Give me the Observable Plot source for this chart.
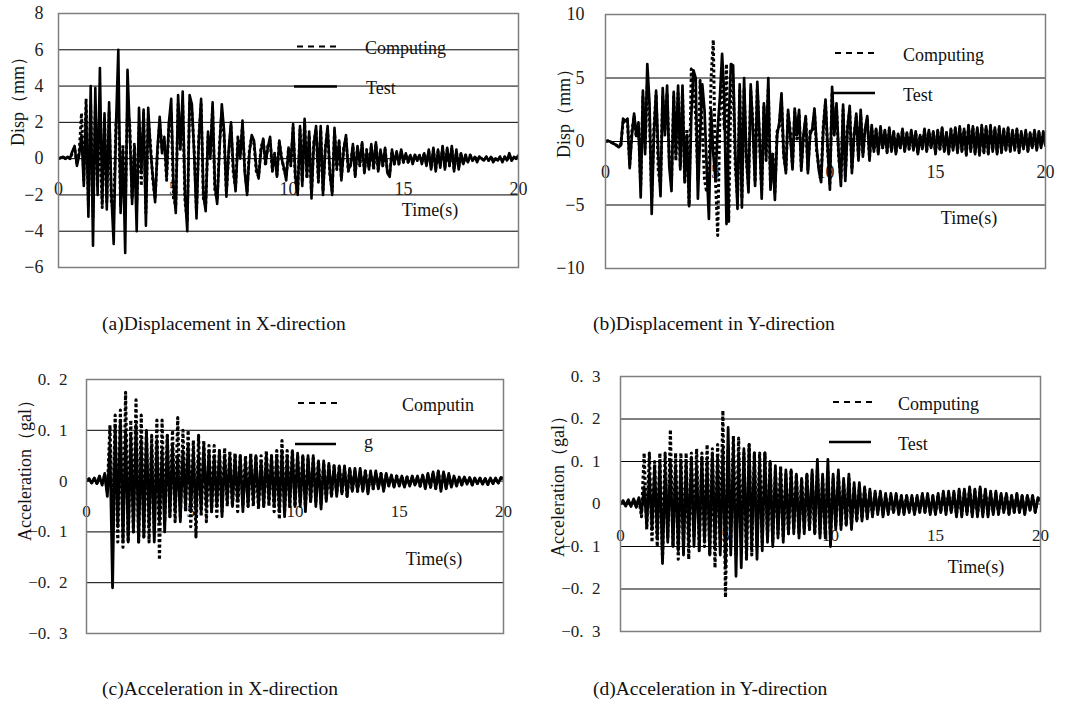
<!DOCTYPE html>
<html><head><meta charset="utf-8">
<script src="https://cdn.jsdelivr.net/npm/d3@7"></script>
<script src="https://cdn.jsdelivr.net/npm/@observablehq/plot@0.6"></script>
<style>
body{margin:0;background:#fff;}
#wrap{position:relative;width:1071px;height:703px;overflow:hidden;font-family:"Liberation Serif","Times New Roman",serif;}
#wrap svg{position:absolute;}
</style></head><body><div id="wrap"></div>
<script>
// ---------- data ----------
const xTicks = [0, 5, 10, 15, 20];
const seriesNames = ["Computing", "Test"];
const dtDisp = 0.1;    // s between readings, displacement panels
const dtAcc = 0.125;   // s between readings, acceleration panels

// (a) displacement X, mm  (one row = 1 s)
const dispXTest = [
0, 0.05, 0.1, 0, 0.1, 0, 0.4, 0.7, -0.4, 0.2,
1.3, -1.5, 2.8, -3.2, 4.0, -4.8, 3.9, -2.0, 5.0, -2.5,
2.5, -2.8, 3.1, -2.0, -4.7, 1.8, 6.0, -3.0, 0.5, -5.2,
4.9, 1.5, -2.5, 0.5, -4.0, 2.8, -0.8, 2.7, -3.7, 2.8,
0.5, -1.0, -2.4, 0.5, 2.3, 0.3, 1.2, -1.0, 2.0, 3.3,
-1.5, -3.0, 3.5, 0.5, 3.7, -2.0, -4.0, 3.5, 3.0, 0.2,
-3.3, 1.0, 3.3, -2.0, -2.9, 1.5, 0.0, 3.1, -1.5, -2.5,
0.5, 3.0, 1.5, -2.1, 0.5, 2.0, -0.5, -1.8, 1.0, 0.0,
2.1, -0.8, -2.0, 0.3, 1.3, 1.0, -0.5, -1.1, 0.4, 1.1,
-0.3, 0.6, 1.2, -0.6, 0.2, -1.0, 1.0, 0.0, -0.5, -1.2,
0.5, -0.3, 1.9, -1.0, -2.0, 1.8, -1.5, 2.2, -1.0, 1.5,
-2.2, 0.8, 1.8, -1.2, 1.8, -2.0, 0.5, 1.8, -0.8, -2.0,
1.7, -0.5, 1.0, -1.2, 0.5, 1.3, -0.6, -0.4, 0.8, -1.0,
0.7, -0.3, 0.9, -0.8, 0.4, -0.6, 0.8, -0.5, 0.9, -0.7,
0.5, -0.4, 0.6, -0.8, -1.0, 0.5, -0.3, 0.4, -0.3, 0.5,
-0.2, 0.3, -0.2, 0.2, -0.3, 0.2, -0.1, 0.2, -0.3, 0.3,
-0.4, 0.5, -0.6, 0.6, -0.7, 0.5, -0.5, 0.7, -0.6, 0.6,
-0.4, 0.7, -0.7, 0.5, -0.6, 0.3, -0.3, 0.2, -0.2, 0.2,
-0.1, 0.1, -0.2, 0.1, 0.0, -0.1, 0.1, -0.1, 0.1, -0.2,
0.0, -0.1, 0.1, -0.2, 0.1, -0.1, 0.3, -0.1, 0.1, 0.0,
0.2];
const dispXComp = [
0, 0.05, 0.1, 0, 0.1, 0, 0.3, 0.6, -0.3, 0.4,
2.5, -1.2, 3.3, -2.6, 3.0, -3.2, 2.8, -1.5, 1.8, -2.7,
2.2, -2.4, 2.6, -2.5, -2.8, 2.0, 3.0, -2.6, 0.8, -3.0,
2.9, 1.8, -2.2, 0.8, -2.5, 1.7, -1.5, 2.5, -3.0, 2.2,
0.8, -1.2, -2.2, 0.3, 2.0, 0.6, 1.0, -1.2, 1.8, 2.6,
-2.2, -2.6, 3.0, 0.8, 3.0, -2.4, -3.4, 3.2, 2.6, 0.5,
-3.0, 1.2, 3.0, -2.2, -2.6, 1.2, 0.3, 2.8, -1.8, -2.2,
0.8, 2.6, 1.2, -1.9, 0.2, 1.8, -0.8, -1.6, 1.2, 0.2,
1.8, -0.6, -1.8, 0.5, 1.2, 0.8, -0.7, -1.0, 0.6, 1.0,
-0.4, 0.7, 1.0, -0.7, 0.3, -0.9, 0.9, 0.1, -0.6, -1.0,
0.6, -0.4, 1.7, -1.2, -1.8, 1.6, -1.3, 2.0, -1.1, 1.3,
-2.0, 0.9, 1.6, -1.3, 1.6, -1.8, 0.6, 1.6, -0.9, -1.8,
1.5, -0.6, 0.9, -1.1, 0.6, 1.1, -0.7, -0.3, 0.7, -0.9,
0.6, -0.4, 0.8, -0.7, 0.5, -0.5, 0.7, -0.6, 0.8, -0.6,
0.4, -0.4, 0.5, -0.7, -0.8, 0.4, -0.3, 0.3, -0.3, 0.4,
-0.2, 0.2, -0.2, 0.2, -0.2, 0.2, -0.1, 0.2, -0.2, 0.3,
-0.3, 0.4, -0.5, 0.5, -0.6, 0.4, -0.4, 0.6, -0.5, 0.5,
-0.4, 0.6, -0.6, 0.4, -0.5, 0.3, -0.3, 0.2, -0.2, 0.2,
-0.1, 0.1, -0.1, 0.1, 0.0, -0.1, 0.1, -0.1, 0.1, -0.1,
0.0, -0.1, 0.1, -0.1, 0.1, -0.1, 0.2, -0.1, 0.1, 0.0,
0.1];

// (b) displacement Y, mm  (one row = 1 s)
const dispYTest = [
0, 0.05, 0, -0.1, -0.2, -0.3, -0.45, -0.3, 1.8, 1.6,
1.8, -2.1, 0.5, 2.2, 0.5, 1.5, -4.4, 4.0, -1.0, 6.1,
3.0, -5.7, 0.5, 4.0, -1.0, -4.3, 4.2, 0.5, 4.4, -2.0,
-3.9, 3.9, -1.0, 4.4, -2.2, 4.4, -3.0, 0.5, -5.1, 2.0,
5.6, 5.0, -4.5, 0.5, 4.5, 2.5, -2.0, -6.1, 2.5, -1.0,
-3.0, 1.0, 3.5, 6.9, 3.5, -6.5, 1.5, 6.1, 6.0, -1.0,
-5.3, 4.5, -5.2, 5.0, -1.0, -4.0, 4.5, 1.0, -3.5, 4.7,
0.5, -4.5, 3.0, -1.0, 5.0, -3.8, -1.0, -4.6, 0.5, 1.5,
3.8, -1.0, -2.5, 2.5, 0.5, -2.2, 2.6, 0.5, 2.5, -2.3,
0.5, 2.0, -2.5, 0.5, 1.0, 2.6, -0.5, -2.3, -3.2, 1.0,
3.3, -0.5, -3.8, 4.3, 0.5, 3.0, -1.0, -3.5, 2.9, -3.1,
1.0, 2.8, -2.5, 0.5, 2.2, -1.5, 2.5, -1.2, 1.0, 2.0,
-1.5, 1.3, -0.8, 1.0, -1.0, 1.2, -0.5, 0.9, -0.9, 1.1,
-0.8, 0.8, -1.0, 0.6, -0.5, 1.0, -0.8, 0.7, -0.6, 0.9,
-0.7, 0.8, -1.0, 0.5, -0.6, 1.0, -0.8, 0.9, -0.5, 0.8,
-1.0, 0.9, -0.6, 1.1, -0.8, 0.7, -1.0, 1.0, -0.7, 1.1,
-0.9, 1.2, -0.8, 1.0, -1.1, 1.3, -0.8, 1.2, -1.0, 1.1,
-1.1, 1.3, -0.9, 1.2, -1.0, 1.3, -0.8, 1.1, -1.0, 1.2,
-0.9, 1.0, -0.7, 1.1, -0.8, 0.9, -0.7, 1.0, -0.9, 0.8,
-0.6, 0.9, -0.8, 0.7, -0.5, 0.9, -0.7, 0.8, -0.5, 0.8,
-0.4];
const dispYComp = [
0, 0.05, 0, -0.1, -0.2, -0.3, -0.4, -0.2, 1.5, 1.4,
1.6, -1.8, 0.8, 2.0, 0.3, 1.2, -3.5, 3.5, -0.5, 4.5,
2.0, -4.5, 1.0, 3.7, -2.3, -3.5, 3.5, 1.0, 3.8, -1.5,
-3.2, 3.5, -1.5, 3.8, -2.0, 4.0, -3.2, 1.0, -5.0, 5.7,
4.0, 2.0, -3.0, 4.8, 1.0, -3.0, -4.0, -2.5, 5.0, 8.0,
-3.0, -7.4, 2.0, 5.0, 1.0, 6.1, -6.3, 4.0, 5.0, -2.0,
-4.5, 4.0, -4.5, 4.2, -1.5, -3.5, 4.0, 1.5, -3.2, 4.2,
0.0, -3.8, 2.8, -1.5, 4.2, -3.5, -1.0, -4.0, 0.8, 1.2,
3.2, -1.2, -2.2, 2.2, 0.8, -2.0, 2.3, 0.2, 2.2, -2.0,
0.3, 1.8, -2.2, 0.8, 0.8, 2.3, -0.8, -2.0, -2.8, 1.2,
3.0, -0.8, -3.3, 3.8, 0.8, 2.6, -1.2, -3.0, 2.5, -2.7,
1.2, 2.4, -2.2, 0.6, 1.9, -1.3, 2.1, -1.0, 0.9, 1.7,
-1.3, 1.1, -0.7, 0.9, -0.9, 1.0, -0.5, 0.8, -0.8, 0.9,
-0.7, 0.7, -0.9, 0.5, -0.5, 0.9, -0.7, 0.6, -0.6, 0.8,
-0.6, 0.7, -0.9, 0.5, -0.5, 0.9, -0.7, 0.8, -0.5, 0.7,
-0.9, 0.8, -0.6, 1.0, -0.7, 0.7, -0.9, 0.9, -0.6, 1.0,
-0.8, 1.1, -0.7, 0.9, -1.0, 1.2, -0.7, 1.1, -0.9, 1.0,
-1.0, 1.2, -0.8, 1.1, -0.9, 1.2, -0.7, 1.0, -0.9, 1.1,
-0.8, 0.9, -0.6, 1.0, -0.7, 0.8, -0.6, 0.9, -0.8, 0.7,
-0.5, 0.8, -0.7, 0.6, -0.5, 0.8, -0.6, 0.7, -0.4, 0.7,
-0.3];

// (c) acceleration X, gal  (one row = 1 s)
const accXTest = [
0, 0.005, -0.004, 0.006, -0.005, 0.01, -0.008, 0.015,
-0.03, 0.07, -0.21, 0.11, -0.09, 0.12, -0.12, 0.10,
-0.12, 0.09, -0.10, 0.11, -0.12, 0.08, -0.11, 0.10,
-0.09, 0.07, -0.12, 0.08, -0.08, 0.06, -0.10, 0.09,
-0.07, 0.07, -0.06, 0.05, -0.08, 0.06, -0.05, 0.07,
-0.06, 0.06, -0.07, 0.05, -0.06, 0.07, -0.05, 0.06,
-0.06, 0.05, -0.05, 0.06, -0.07, 0.05, -0.04, 0.05,
-0.05, 0.05, -0.04, 0.05, -0.06, 0.04, -0.05, 0.05,
-0.04, 0.05, -0.05, 0.04, -0.05, 0.05, -0.04, 0.05,
-0.05, 0.05, -0.06, 0.06, -0.07, 0.05, -0.05, 0.06,
-0.05, 0.055, -0.05, 0.05, -0.06, 0.05, -0.04, 0.05,
-0.05, 0.04, -0.055, 0.04, -0.04, 0.035, -0.03, 0.03,
-0.03, 0.03, -0.025, 0.03, -0.03, 0.025, -0.02, 0.025,
-0.02, 0.025, -0.02, 0.02, -0.025, 0.02, -0.015, 0.02,
-0.015, 0.015, -0.02, 0.015, -0.01, 0.012, -0.012, 0.01,
-0.01, 0.01, -0.012, 0.008, -0.01, 0.01, -0.008, 0.01,
-0.01, 0.012, -0.015, 0.015, -0.012, 0.018, -0.015, 0.02,
-0.02, 0.018, -0.015, 0.015, -0.012, 0.01, -0.01, 0.008,
-0.008, 0.008, -0.006, 0.007, -0.008, 0.006, -0.005, 0.006,
-0.006, 0.005, -0.007, 0.006, -0.005, 0.006, -0.004, 0.007,
0.005];
const accXComp = [
0, 0.004, -0.003, 0.005, -0.004, 0.008, -0.006, 0.012,
-0.02, 0.11, -0.10, 0.13, -0.12, 0.14, -0.13, 0.175,
-0.12, 0.12, -0.10, 0.16, -0.12, 0.13, -0.11, 0.10,
-0.12, 0.09, -0.10, 0.12, -0.155, 0.12, -0.08, 0.09,
-0.07, 0.10, -0.08, 0.125, -0.07, 0.10, -0.06, 0.10,
-0.09, 0.08, -0.11, 0.09, -0.07, 0.08, -0.08, 0.07,
-0.06, 0.07, -0.07, 0.06, -0.06, 0.065, -0.05, 0.06,
-0.05, 0.055, -0.06, 0.05, -0.05, 0.05, -0.05, 0.055,
-0.05, 0.05, -0.055, 0.05, -0.05, 0.06, -0.05, 0.05,
-0.06, 0.06, -0.075, 0.08, -0.06, 0.06, -0.05, 0.06,
-0.05, 0.05, -0.045, 0.05, -0.05, 0.045, -0.04, 0.045,
-0.04, 0.04, -0.045, 0.035, -0.035, 0.03, -0.03, 0.03,
-0.025, 0.03, -0.025, 0.025, -0.03, 0.025, -0.02, 0.02,
-0.02, 0.02, -0.02, 0.02, -0.02, 0.015, -0.015, 0.015,
-0.012, 0.015, -0.015, 0.012, -0.01, 0.01, -0.01, 0.01,
-0.008, 0.01, -0.01, 0.008, -0.008, 0.008, -0.007, 0.008,
-0.01, 0.01, -0.012, 0.014, -0.012, 0.016, -0.014, 0.018,
-0.017, 0.016, -0.013, 0.012, -0.01, 0.009, -0.008, 0.007,
-0.007, 0.007, -0.005, 0.006, -0.007, 0.005, -0.004, 0.005,
-0.005, 0.004, -0.006, 0.005, -0.004, 0.005, -0.003, 0.006,
0.004];

// (d) acceleration Y, gal  (one row = 1 s)
const accYTest = [
0, 0.008, -0.005, 0.01, -0.006, 0.012, -0.008, 0.015,
-0.02, 0.04, -0.05, 0.07, -0.06, 0.09, -0.08, 0.10,
-0.14, 0.08, -0.09, 0.10, -0.10, 0.09, -0.11, 0.10,
-0.12, 0.10, -0.09, 0.11, -0.10, 0.09, -0.10, 0.11,
-0.09, 0.10, -0.12, 0.12, -0.10, 0.11, -0.12, 0.13,
-0.15, 0.18, -0.12, 0.14, -0.17, 0.12, -0.15, 0.13,
-0.12, 0.14, -0.10, 0.12, -0.13, 0.10, -0.11, 0.12,
-0.09, 0.10, -0.10, 0.09, -0.08, 0.08, -0.09, 0.08,
-0.07, 0.08, -0.07, 0.07, -0.08, 0.06, -0.07, 0.07,
-0.06, 0.08, -0.07, 0.105, -0.08, 0.07, -0.08, 0.105,
-0.10, 0.07, -0.06, 0.08, -0.06, 0.06, -0.05, 0.07,
-0.06, 0.05, -0.04, 0.05, -0.04, 0.04, -0.035, 0.035,
-0.03, 0.03, -0.025, 0.03, -0.03, 0.025, -0.025, 0.025,
-0.02, 0.025, -0.025, 0.02, -0.025, 0.02, -0.02, 0.02,
-0.025, 0.02, -0.02, 0.025, -0.02, 0.025, -0.025, 0.02,
-0.025, 0.025, -0.02, 0.03, -0.025, 0.03, -0.02, 0.03,
-0.03, 0.035, -0.03, 0.035, -0.025, 0.04, -0.03, 0.035,
-0.03, 0.04, -0.03, 0.035, -0.03, 0.03, -0.025, 0.03,
-0.025, 0.025, -0.02, 0.025, -0.025, 0.02, -0.02, 0.025,
-0.02, 0.02, -0.025, 0.02, -0.015, 0.02, -0.02, 0.015,
0.01];
const accYComp = [
0, 0.006, -0.004, 0.008, -0.005, 0.01, -0.006, 0.012,
-0.03, 0.12, -0.06, 0.12, -0.09, 0.10, -0.10, 0.12,
-0.13, 0.12, -0.08, 0.175, -0.10, 0.12, -0.13, 0.12,
-0.10, 0.12, -0.13, 0.12, -0.08, 0.13, -0.11, 0.12,
-0.10, 0.14, -0.12, 0.13, -0.15, 0.14, -0.10, 0.22,
-0.22, 0.13, -0.10, 0.16, -0.12, 0.155, -0.10, 0.12,
-0.13, 0.14, -0.12, 0.12, -0.10, 0.12, -0.09, 0.12,
-0.08, 0.10, -0.09, 0.08, -0.07, 0.09, -0.08, 0.07,
-0.07, 0.08, -0.06, 0.07, -0.07, 0.06, -0.06, 0.07,
-0.06, 0.07, -0.07, 0.08, -0.07, 0.06, -0.07, 0.08,
-0.08, 0.06, -0.05, 0.07, -0.05, 0.05, -0.05, 0.06,
-0.05, 0.04, -0.04, 0.04, -0.035, 0.035, -0.03, 0.03,
-0.025, 0.025, -0.02, 0.025, -0.025, 0.02, -0.02, 0.02,
-0.02, 0.02, -0.02, 0.018, -0.02, 0.018, -0.018, 0.018,
-0.02, 0.018, -0.018, 0.02, -0.018, 0.02, -0.02, 0.018,
-0.02, 0.022, -0.018, 0.025, -0.02, 0.025, -0.018, 0.025,
-0.025, 0.03, -0.025, 0.03, -0.022, 0.035, -0.025, 0.03,
-0.025, 0.035, -0.025, 0.03, -0.025, 0.025, -0.022, 0.025,
-0.022, 0.022, -0.018, 0.022, -0.022, 0.018, -0.018, 0.022,
-0.018, 0.018, -0.022, 0.018, -0.013, 0.018, -0.018, 0.013,
0.008];

const dispXTicks = [-6, -4, -2, 0, 2, 4, 6, 8];
const dispYTicks = [-10, -5, 0, 5, 10];
const accXTicks = [-0.3, -0.2, -0.1, 0, 0.1, 0.2];
const accYTicks = [-0.3, -0.2, -0.1, 0, 0.1, 0.2, 0.3];

// ---------- drawing ----------
const SERIF = '"Liberation Serif","Times New Roman",serif';
const minus = d => (d < 0 ? "\u2212" : "") + Math.abs(d);
const minusSpaced = d => d === 0 ? "0" : (d < 0 ? "\u2212" : "") + Math.abs(d).toFixed(1).replace(".", ".\u2002");
const toRows = (vals, dt) => vals.map((v, i) => ({t: i * dt, v}));

function panel(cfg) {
  const [lo, hi] = cfg.yDomain;
  const grid = cfg.yTicks.filter(d => d > lo && d < hi);
  const lineOpts = {x: "t", y: "v", stroke: "#000", strokeWidth: cfg.sw, strokeLinejoin: "round", strokeLinecap: "butt", clip: true};
  const chart = Plot.plot({
    width: cfg.width, height: cfg.height,
    marginLeft: cfg.ml, marginRight: cfg.mr, marginTop: cfg.mt, marginBottom: cfg.mb,
    x: {domain: [0, 20], axis: null},
    y: {domain: cfg.yDomain, axis: null},
    style: {fontFamily: SERIF, fontSize: cfg.fontSize + "px", background: "transparent", overflow: "visible"},
    marks: [
      Plot.ruleY(grid, {stroke: "#000", strokeWidth: 1}),
      Plot.axisY({ticks: cfg.yTicks, tickSize: 0, tickPadding: cfg.pad, tickFormat: cfg.fmt, label: null, fill: "#222"}),
      Plot.text(xTicks, {x: d => d, y: () => 0, dy: cfg.xdy, text: d => String(d), fill: "#222"}),
      Plot.line(toRows(cfg.comp, cfg.dt), {...lineOpts, strokeWidth: cfg.sw + 0.3, strokeDasharray: "3,2.5"}),
      Plot.line(toRows(cfg.test, cfg.dt), lineOpts),
      Plot.frame({stroke: "#7f7f7f", strokeWidth: 1.5})
    ]
  });
  chart.style.left = cfg.left + "px";
  chart.style.top = cfg.top + "px";
  document.getElementById("wrap").appendChild(chart);
}

panel({left: 0, top: 0, width: 535, height: 300, ml: 58, mr: 17, mt: 13, mb: 33,
  yDomain: [-6, 8], yTicks: dispXTicks, fmt: minus, pad: 15, fontSize: 18, xdy: 31, sw: 2.6,
  dt: dtDisp, test: dispXTest, comp: dispXComp});
panel({left: 535, top: 0, width: 536, height: 300, ml: 70, mr: 26, mt: 14, mb: 32,
  yDomain: [-10, 10], yTicks: dispYTicks, fmt: minus, pad: 21, fontSize: 18, xdy: 31, sw: 2.7,
  dt: dtDisp, test: dispYTest, comp: dispYComp});
panel({left: 0, top: 340, width: 535, height: 310, ml: 86, mr: 32, mt: 39, mb: 17,
  yDomain: [-0.3, 0.2], yTicks: accXTicks, fmt: minusSpaced, pad: 19, fontSize: 17, xdy: 30, sw: 2.8,
  dt: dtAcc, test: accXTest, comp: accXComp});
panel({left: 535, top: 340, width: 536, height: 310, ml: 85, mr: 31, mt: 36, mb: 19,
  yDomain: [-0.3, 0.3], yTicks: accYTicks, fmt: minusSpaced, pad: 20, fontSize: 17, xdy: 32, sw: 2.8,
  dt: dtAcc, test: accYTest, comp: accYComp});

// ---------- annotations (legends, axis titles, captions) ----------
const ov = d3.select("#wrap").append("svg")
  .attr("width", 1071).attr("height", 703)
  .style("left", "0px").style("top", "0px")
  .attr("font-family", SERIF).attr("fill", "#111");

function txt(s, x, y, size, opts = {}) {
  const t = ov.append("text").attr("x", x).attr("y", y).attr("font-size", size).text(s);
  if (opts.anchor) t.attr("text-anchor", opts.anchor);
  return t;
}
function ylab(s, cx, cy) {
  ov.append("text").attr("transform", `translate(${cx},${cy}) rotate(-90)`)
    .attr("text-anchor", "middle").attr("dominant-baseline", "central")
    .attr("font-size", 18).text(s);
}
function legend(x1, x2, y, dashed, label, lx, ly) {
  ov.append("line").attr("x1", x1).attr("x2", x2).attr("y1", y).attr("y2", y)
    .attr("stroke", "#000").attr("stroke-width", dashed ? 2.2 : 2.6)
    .attr("stroke-dasharray", dashed ? "6,5" : null);
  txt(label, lx, ly, 18);
}

ylab("Disp（mm）", 17.5, 97);
ylab("Disp（mm）", 564, 109);
ylab("Acceleration（gal）", 24.5, 466);
ylab("Acceleration（gal）", 558, 482);

legend(297, 340, 46.5, true, seriesNames[0], 365, 54);
legend(294, 337, 86.5, false, seriesNames[1], 366, 94);
legend(835, 878, 53, true, seriesNames[0], 903, 61);
legend(832, 875, 93, false, seriesNames[1], 903, 101);
legend(298, 340, 403, true, "Computin", 402, 411);
legend(295, 336, 444, false, "g", 364, 448);
legend(833, 875, 402, true, seriesNames[0], 898, 410);
legend(829, 871, 442, false, seriesNames[1], 898, 450);

txt("Time(s)", 430, 216, 18, {anchor: "middle"});
txt("Time(s)", 969, 224, 18, {anchor: "middle"});
txt("Time(s)", 434, 565, 18, {anchor: "middle"});
txt("Time(s)", 976, 573, 18, {anchor: "middle"});

txt("(a)Displacement in X-direction", 102, 330, 19.5);
txt("(b)Displacement in Y-direction", 593, 330, 19.5);
txt("(c)Acceleration in X-direction", 102, 695, 19.5);
txt("(d)Acceleration in Y-direction", 593, 695, 19.5);
</script></body></html>
